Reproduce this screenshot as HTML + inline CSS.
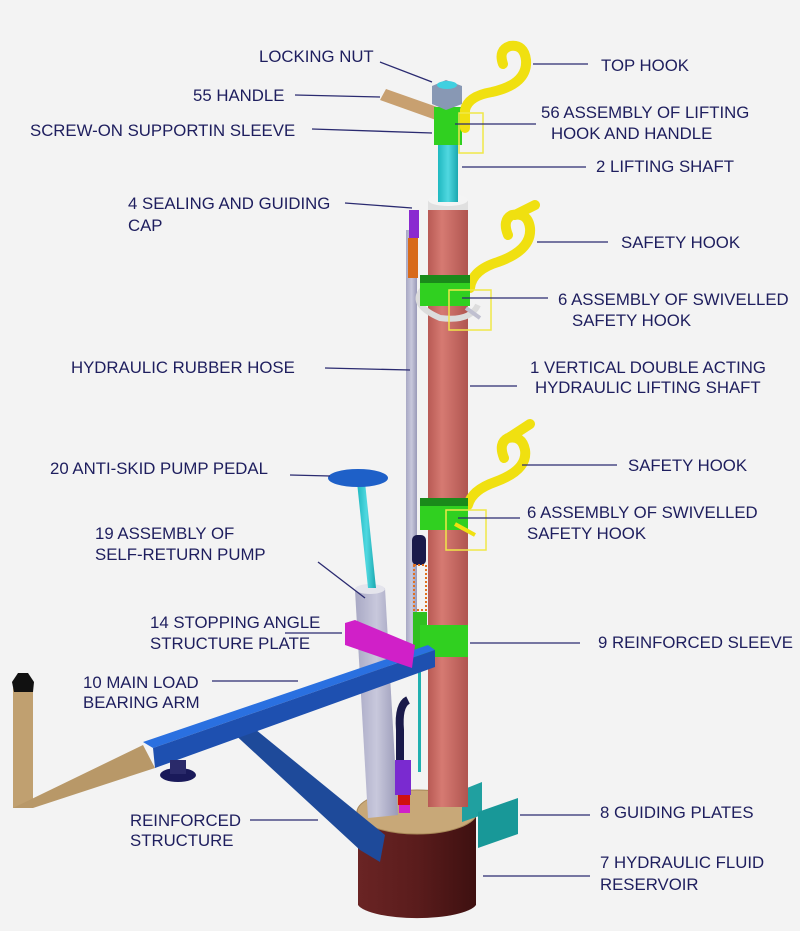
<!DOCTYPE html>
<html><head><meta charset="utf-8"><style>
html,body{margin:0;padding:0;background:#f3f3f3;}
svg{display:block}
text{font-family:"Liberation Sans",Arial,sans-serif;font-size:16.8px;fill:#1e1e5e;}
</style></head><body>
<svg width="800" height="931" viewBox="0 0 800 931" xmlns="http://www.w3.org/2000/svg">
<defs>
<linearGradient id="red" x1="0" x2="1"><stop offset="0" stop-color="#b85a55"/><stop offset="0.35" stop-color="#d67a72"/><stop offset="1" stop-color="#b05550"/></linearGradient>
<linearGradient id="gray" x1="0" x2="1"><stop offset="0" stop-color="#a8a8c4"/><stop offset="0.5" stop-color="#c8c8dc"/><stop offset="1" stop-color="#9a9ab8"/></linearGradient>
<linearGradient id="base" x1="0" x2="1"><stop offset="0" stop-color="#6a2424"/><stop offset="0.5" stop-color="#5a1c1c"/><stop offset="1" stop-color="#3e1010"/></linearGradient>
<linearGradient id="cyan" x1="0" x2="1"><stop offset="0" stop-color="#1fb8c0"/><stop offset="0.5" stop-color="#50d8e0"/><stop offset="1" stop-color="#1aa8b0"/></linearGradient>
</defs>

<path d="M358 810 L358 905 A60 16 0 0 0 476 905 L476 810 Z" fill="url(#base)"/>
<ellipse cx="417" cy="812" rx="60" ry="22" fill="#c8a878" stroke="#a88858" stroke-width="1"/>
<polygon points="462,790 482,782 482,815 462,822" fill="#20a0a0"/>
<polygon points="478,812 518,798 518,834 478,848" fill="#189898"/>

<polygon points="230,730 250,725 385,835 380,862 360,850" fill="#1e4a9a"/>
<polygon points="355,590 385,588 398,815 368,818" fill="url(#gray)"/>
<ellipse cx="370" cy="589" rx="15" ry="5" fill="#e4e4ec"/>
<polygon points="357,482 365,482 376,588 368,588" fill="url(#cyan)"/>
<ellipse cx="358" cy="478" rx="30" ry="9" fill="#1e60c8"/>

<rect x="406" y="230" width="11" height="420" fill="url(#gray)"/>
<rect x="409" y="210" width="10" height="28" fill="#8a2ad0"/>
<rect x="408" y="238" width="10" height="40" fill="#d86a1a"/>

<rect x="428" y="207" width="40" height="600" fill="url(#red)"/>
<rect x="428" y="200" width="40" height="10" fill="#e0e0e0"/>
<ellipse cx="448" cy="200" rx="20" ry="6" fill="#f4f4f4"/>
<rect x="438" y="140" width="20" height="62" fill="url(#cyan)"/>
<polygon points="380,100 386,89 440,108 436,120" fill="#c8a070"/>
<rect x="434" y="107" width="28" height="38" fill="#30d020"/>
<polygon points="432,86 446,80 462,86 462,104 446,110 432,104" fill="#8898b4"/>
<ellipse cx="447" cy="85" rx="10" ry="4" fill="#40d0e0"/>
<path d="M465 128 L465 110 Q468 96 492 92 Q528 84 526 60 Q524 44 510 46 Q498 50 503 64" fill="none" stroke="#f0e010" stroke-width="10" stroke-linecap="round"/>
<rect x="459" y="113" width="24" height="40" fill="none" stroke="#f0e848" stroke-width="1.5"/>

<path d="M470 288 Q472 270 498 262 Q532 250 530 228 Q528 212 512 215 Q502 220 508 235 M515 215 L535 205" fill="none" stroke="#f0e010" stroke-width="10" stroke-linecap="round"/>
<path d="M422 290 Q410 305 440 318 Q470 322 478 305" fill="none" stroke="#dcdcdc" stroke-width="6"/>
<rect x="420" y="278" width="50" height="28" fill="#30d020"/>
<rect x="420" y="275" width="50" height="8" fill="#1a8a1a"/>
<line x1="466" y1="308" x2="480" y2="318" stroke="#c0c0d0" stroke-width="4"/>
<rect x="449" y="290" width="42" height="40" fill="none" stroke="#f0e848" stroke-width="1.5"/>

<path d="M468 505 Q472 490 495 482 Q528 470 525 450 Q522 435 508 438 Q498 443 504 458 M510 437 L530 424" fill="none" stroke="#f0e010" stroke-width="10" stroke-linecap="round"/>
<rect x="420" y="502" width="48" height="28" fill="#30d020"/>
<rect x="420" y="498" width="48" height="8" fill="#1a8a1a"/>
<line x1="455" y1="524" x2="475" y2="535" stroke="#f0e010" stroke-width="4"/>
<rect x="446" y="510" width="40" height="40" fill="none" stroke="#f0e848" stroke-width="1.5"/>

<rect x="412" y="535" width="14" height="30" rx="5" fill="#1a1a4a"/>
<rect x="414" y="565" width="12" height="45" fill="none" stroke="#e07020" stroke-width="2" stroke-dasharray="2 2"/>
<rect x="413" y="612" width="14" height="50" fill="#30c020"/>
<rect x="418" y="662" width="3" height="110" fill="#20b0b0"/>
<rect x="420" y="625" width="48" height="32" fill="#30d020"/>
<polygon points="143,742 428,645 435,650 153,748" fill="#2a70e0"/>
<polygon points="153,748 435,650 435,667 155,768" fill="#1e50b0"/>
<polygon points="345,623 355,620 415,645 412,668 345,645" fill="#d020c8"/>
<rect x="13" y="688" width="20" height="120" fill="#c0a070"/>
<polygon points="13,808 33,808 155,768 143,745" fill="#b89868"/>
<polygon points="12,682 18,673 28,673 34,682 33,692 14,692" fill="#111"/>
<ellipse cx="178" cy="775" rx="18" ry="7" fill="#1a1a5a"/>
<rect x="170" y="760" width="16" height="14" fill="#2a2a6a"/>
<path d="M408 700 Q398 705 400 730 L400 760" fill="none" stroke="#1a1a4a" stroke-width="8"/>
<rect x="395" y="760" width="16" height="35" fill="#7a2ad0"/>
<rect x="398" y="795" width="12" height="10" fill="#d01010"/>
<rect x="399" y="805" width="11" height="8" fill="#d020c8"/>

<g stroke="#2a2a70" stroke-width="1.3">
<line x1="380" y1="62" x2="432" y2="82"/>
<line x1="295" y1="95" x2="380" y2="97"/>
<line x1="312" y1="129" x2="432" y2="133"/>
<line x1="533" y1="64" x2="588" y2="64"/>
<line x1="455" y1="124" x2="536" y2="124"/>
<line x1="462" y1="167" x2="586" y2="167"/>
<line x1="345" y1="203" x2="412" y2="208"/>
<line x1="537" y1="242" x2="608" y2="242"/>
<line x1="462" y1="298" x2="548" y2="298"/>
<line x1="325" y1="368" x2="410" y2="370"/>
<line x1="470" y1="386" x2="517" y2="386"/>
<line x1="290" y1="475" x2="330" y2="476"/>
<line x1="522" y1="465" x2="617" y2="465"/>
<line x1="318" y1="562" x2="365" y2="598"/>
<line x1="458" y1="518" x2="520" y2="518"/>
<line x1="285" y1="633" x2="342" y2="633"/>
<line x1="470" y1="643" x2="580" y2="643"/>
<line x1="212" y1="681" x2="298" y2="681"/>
<line x1="520" y1="815" x2="590" y2="815"/>
<line x1="250" y1="820" x2="318" y2="820"/>
<line x1="483" y1="876" x2="590" y2="876"/>
</g>

<text x="259" y="62">LOCKING NUT</text>
<text x="193" y="101">55 HANDLE</text>
<text x="30" y="136">SCREW-ON SUPPORTIN SLEEVE</text>
<text x="601" y="71">TOP HOOK</text>
<text x="541" y="118">56 ASSEMBLY OF LIFTING</text>
<text x="551" y="139">HOOK AND HANDLE</text>
<text x="596" y="172">2 LIFTING SHAFT</text>
<text x="128" y="209">4 SEALING AND GUIDING</text>
<text x="128" y="231">CAP</text>
<text x="621" y="248">SAFETY HOOK</text>
<text x="558" y="305">6 ASSEMBLY OF SWIVELLED</text>
<text x="572" y="326">SAFETY HOOK</text>
<text x="71" y="373">HYDRAULIC RUBBER HOSE</text>
<text x="530" y="373">1 VERTICAL DOUBLE ACTING</text>
<text x="535" y="393">HYDRAULIC LIFTING SHAFT</text>
<text x="50" y="474">20 ANTI-SKID PUMP PEDAL</text>
<text x="628" y="471">SAFETY HOOK</text>
<text x="95" y="539">19 ASSEMBLY OF</text>
<text x="95" y="560">SELF-RETURN PUMP</text>
<text x="527" y="518">6 ASSEMBLY OF SWIVELLED</text>
<text x="527" y="539">SAFETY HOOK</text>
<text x="150" y="628">14 STOPPING ANGLE</text>
<text x="150" y="649">STRUCTURE PLATE</text>
<text x="598" y="648">9 REINFORCED SLEEVE</text>
<text x="83" y="688">10 MAIN LOAD</text>
<text x="83" y="708">BEARING ARM</text>
<text x="600" y="818">8 GUIDING PLATES</text>
<text x="130" y="826">REINFORCED</text>
<text x="130" y="846">STRUCTURE</text>
<text x="600" y="868">7 HYDRAULIC FLUID</text>
<text x="600" y="890">RESERVOIR</text>
</svg>
</body></html>
